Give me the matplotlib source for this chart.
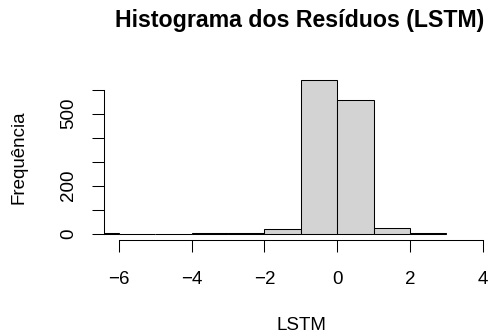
import matplotlib
matplotlib.use("Agg")
import matplotlib.pyplot as plt
import numpy as np

# Data
bin_edges = [-7, -6, -5, -4, -3, -2, -1, 0, 1, 2, 3]
counts = [2, 0, 0, 1, 4, 21, 640, 557, 24, 2]
xticks = [-6, -4, -2, 0, 2, 4]
xtick_labels = ["\u22126", "\u22124", "\u22122", "0", "2", "4"]
yticks = [0, 100, 200, 300, 400, 500, 600]
ytick_labels = ["0", "", "200", "", "", "500", ""]
title = "Histograma dos Resíduos (LSTM)"
xlabel = "LSTM"
ylabel = "Frequência"

plt.rcParams['font.family'] = ['Liberation Sans', 'DejaVu Sans']

W, H = 489, 336
fig = plt.figure(figsize=(W / 100, H / 100), dpi=100)
left_px, right_px, top_px, bottom_px = 104.3, 497.2, 74.0, 239.8
ax = fig.add_axes([left_px / W, 1 - bottom_px / H,
                   (right_px - left_px) / W, (bottom_px - top_px) / H])

lefts = np.array(bin_edges[:-1])
widths = np.diff(bin_edges)
ax.bar(lefts, counts, width=widths, align='edge', color='#D3D3D3',
       edgecolor='black', linewidth=0.75)

ax.set_xlim(-6.4, 4.4)
ax.set_ylim(-25.6, 665.6)

for s in ['top', 'right']:
    ax.spines[s].set_visible(False)
ax.spines['left'].set_bounds(0, 600)
ax.spines['bottom'].set_bounds(-6, 4)
for s in ['left', 'bottom']:
    ax.spines[s].set_linewidth(0.75)

ax.set_xticks(xticks)
ax.set_xticklabels(xtick_labels)
ax.set_yticks(yticks)
ax.set_yticklabels(ytick_labels, rotation=90, va='center')
ax.tick_params(axis='x', length=8.8, width=0.75, pad=14, labelsize=13.5)
ax.tick_params(axis='y', length=8.8, width=0.75, pad=11, labelsize=13.5)

fig.text(300 / W, 1 - 21 / H, title, ha='center', va='center',
         fontsize=16.7, fontweight='bold')
fig.text(301 / W, 1 - 325 / H, xlabel, ha='center', va='center', fontsize=13.5)
fig.text(19 / W, 1 - 157.5 / H, ylabel, ha='center', va='center',
         rotation=90, fontsize=13.5)

fig.savefig("out.png", dpi=100)
